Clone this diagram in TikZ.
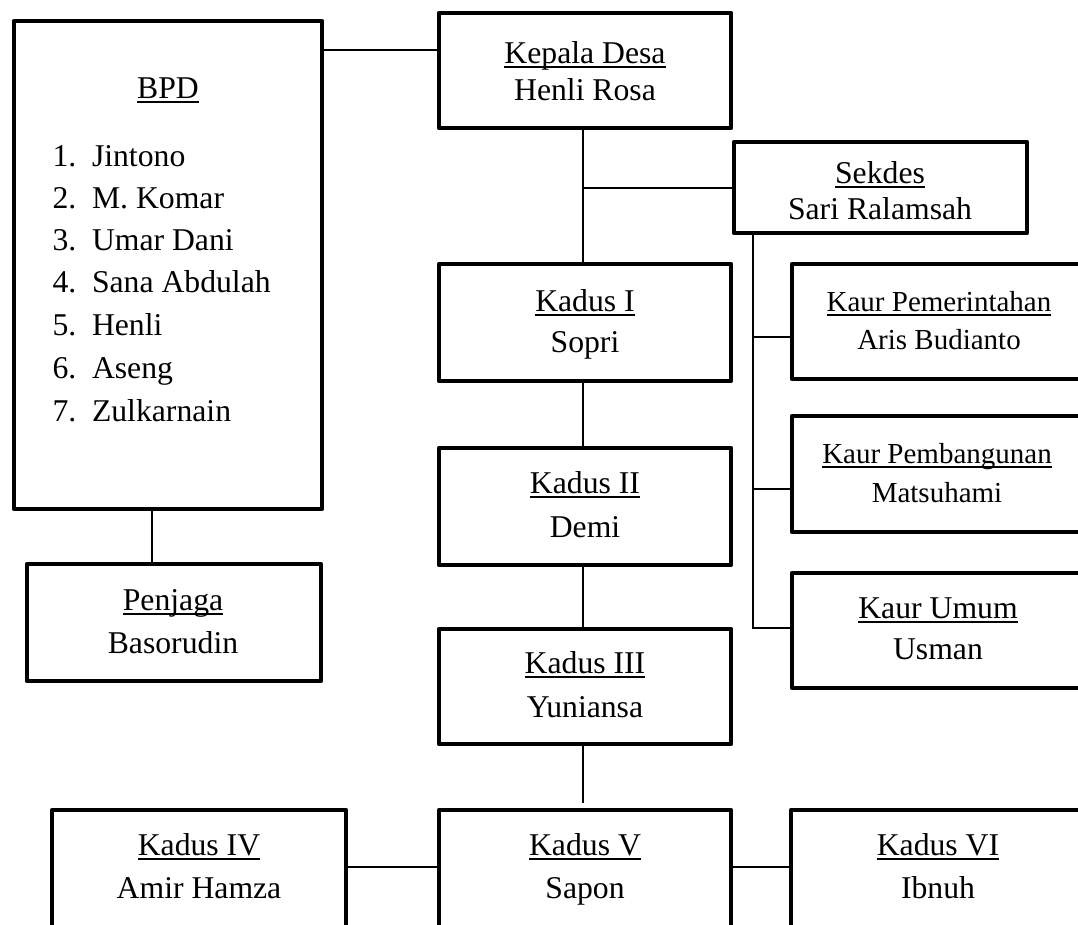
\documentclass[tikz,border=0pt]{standalone}
\usepackage{fontspec}
\setmainfont{Liberation Serif}
\usetikzlibrary{calc}
\newcommand\ulx[1]{\setbox0\hbox{#1}\rlap{\rule[-4.6pt]{\wd0}{1.8pt}}\box0}
\tikzset{
  orgbox/.style={draw, line width=4.6pt, line join=round, inner sep=0pt, outer sep=0pt},
  conn/.style={line width=2pt},
  txt/.style={inner sep=0pt, outer sep=0pt, anchor=base, font=\fontsize{31.7}{38}\selectfont},
  txts/.style={txt, font=\fontsize{29}{35}\selectfont},
  lnum/.style={txt, anchor=base west},
}
\begin{document}
\begin{tikzpicture}[x=1pt,y=-1pt]
\useasboundingbox (0,0) rectangle (1078,924);
\clip (0,0) rectangle (1078,924);
\fill[white] (0,0) rectangle (1078,924);

% boxes
\node[orgbox, minimum width=308pt, minimum height=488pt] (bpd) at (168,265) {};
\node[orgbox, minimum width=292pt, minimum height=115pt] (kepala) at (585,70.5) {};
\node[orgbox, minimum width=293pt, minimum height=91pt] (sekdes) at (880.5,187.5) {};
\node[orgbox, minimum width=292pt, minimum height=117pt] (kadus1) at (585,322.5) {};
\node[orgbox, minimum width=294pt, minimum height=115pt] (kaur1) at (939,321.5) {};
\node[orgbox, minimum width=294pt, minimum height=116pt] (kaur2) at (939,474) {};
\node[orgbox, minimum width=294pt, minimum height=115pt] (kaur3) at (939,630.5) {};
\node[orgbox, minimum width=292pt, minimum height=117pt] (kadus2) at (585,506.5) {};
\node[orgbox, minimum width=292pt, minimum height=115pt] (kadus3) at (585,686.5) {};
\node[orgbox, minimum width=294pt, minimum height=117pt] (penjaga) at (174,622.5) {};
\node[orgbox, minimum width=294pt, minimum height=117pt] (kadus4) at (199,868.5) {};
\node[orgbox, minimum width=292pt, minimum height=117pt] (kadus5) at (585,868.5) {};
\node[orgbox, minimum width=294pt, minimum height=117pt] (kadus6) at (938,868.5) {};

% texts
\node[txt] (bpdT) at (168,98) {\ulx{BPD}};
\node[lnum] (n1) at (52.5,166) {1.};
\node[lnum] (n2) at (52.5,208) {2.};
\node[lnum] (n3) at (52.5,250) {3.};
\node[lnum] (n4) at (52.5,292) {4.};
\node[lnum] (n5) at (52.5,335) {5.};
\node[lnum] (n6) at (52.5,378) {6.};
\node[lnum] (n7) at (52.5,421) {7.};
\node[lnum] (m1) at (92,166) {Jintono};
\node[lnum] (m2) at (92,208) {M. Komar};
\node[lnum] (m3) at (92,250) {Umar Dani};
\node[lnum] (m4) at (92,292) {Sana Abdulah};
\node[lnum] (m5) at (92,335) {Henli};
\node[lnum] (m6) at (92,378) {Aseng};
\node[lnum] (m7) at (92,421) {Zulkarnain};

\node[txt] (kepalaA) at (585,63) {\ulx{Kepala Desa}};
\node[txt] (kepalaB) at (585,100) {Henli Rosa};
\node[txt] (sekdesA) at (880,183) {\ulx{Sekdes}};
\node[txt] (sekdesB) at (880,219) {Sari Ralamsah};
\node[txt] (kadus1A) at (585,311) {\ulx{Kadus I}};
\node[txt] (kadus1B) at (585,352) {Sopri};
\node[txts] (kaur1A) at (939,311) {\ulx{Kaur Pemerintahan}};
\node[txts] (kaur1B) at (939,349) {Aris Budianto};
\node[txts] (kaur2A) at (937,463) {\ulx{Kaur Pembangunan}};
\node[txts] (kaur2B) at (937,502) {Matsuhami};
\node[txt] (kaur3A) at (938,618) {\ulx{Kaur Umum}};
\node[txt] (kaur3B) at (938,659) {Usman};
\node[txt] (kadus2A) at (585,493) {\ulx{Kadus II}};
\node[txt] (kadus2B) at (585,537) {Demi};
\node[txt] (kadus3A) at (585,673) {\ulx{Kadus III}};
\node[txt] (kadus3B) at (585,717) {Yuniansa};
\node[txt] (penjagaA) at (173,610) {\ulx{Penjaga}};
\node[txt] (penjagaB) at (173,653) {Basorudin};
\node[txt] (kadus4A) at (199,855) {\ulx{Kadus IV}};
\node[txt] (kadus4B) at (199,898) {Amir Hamza};
\node[txt] (kadus5A) at (585,855) {\ulx{Kadus V}};
\node[txt] (kadus5B) at (585,898) {Sapon};
\node[txt] (kadus6A) at (938,855) {\ulx{Kadus VI}};
\node[txt] (kadus6B) at (938,898) {Ibnuh};

% helper coordinates
\coordinate (yTop) at (0,50);
\coordinate (xMain) at (583,0);
\coordinate (xBpd) at (152,0);
\coordinate (b1) at (753,337);
\coordinate (b2) at (753,489);
\coordinate (b3) at (753,628);
\coordinate (yBot) at (0,867);
\coordinate (k5end) at (583,803);

% connectors
\draw[conn] (bpd.east |- yTop) -- (kepala.west |- yTop);
\draw[conn] (kepala.south -| xMain) -- (kadus1.north -| xMain);
\draw[conn] (xMain |- sekdes.west) -- (sekdes.west);
\draw[conn] (sekdes.south -| b1) -- (b3) -- (kaur3.west |- b3);
\draw[conn] (b1) -- (kaur1.west |- b1);
\draw[conn] (b2) -- (kaur2.west |- b2);
\draw[conn] (kadus1.south -| xMain) -- (kadus2.north -| xMain);
\draw[conn] (kadus2.south -| xMain) -- (kadus3.north -| xMain);
\draw[conn] (kadus3.south -| xMain) -- (k5end);
\draw[conn] (kadus4.east |- yBot) -- (kadus5.west |- yBot);
\draw[conn] (kadus5.east |- yBot) -- (kadus6.west |- yBot);
\draw[conn] (bpd.south -| xBpd) -- (penjaga.north -| xBpd);
\end{tikzpicture}
\end{document}
